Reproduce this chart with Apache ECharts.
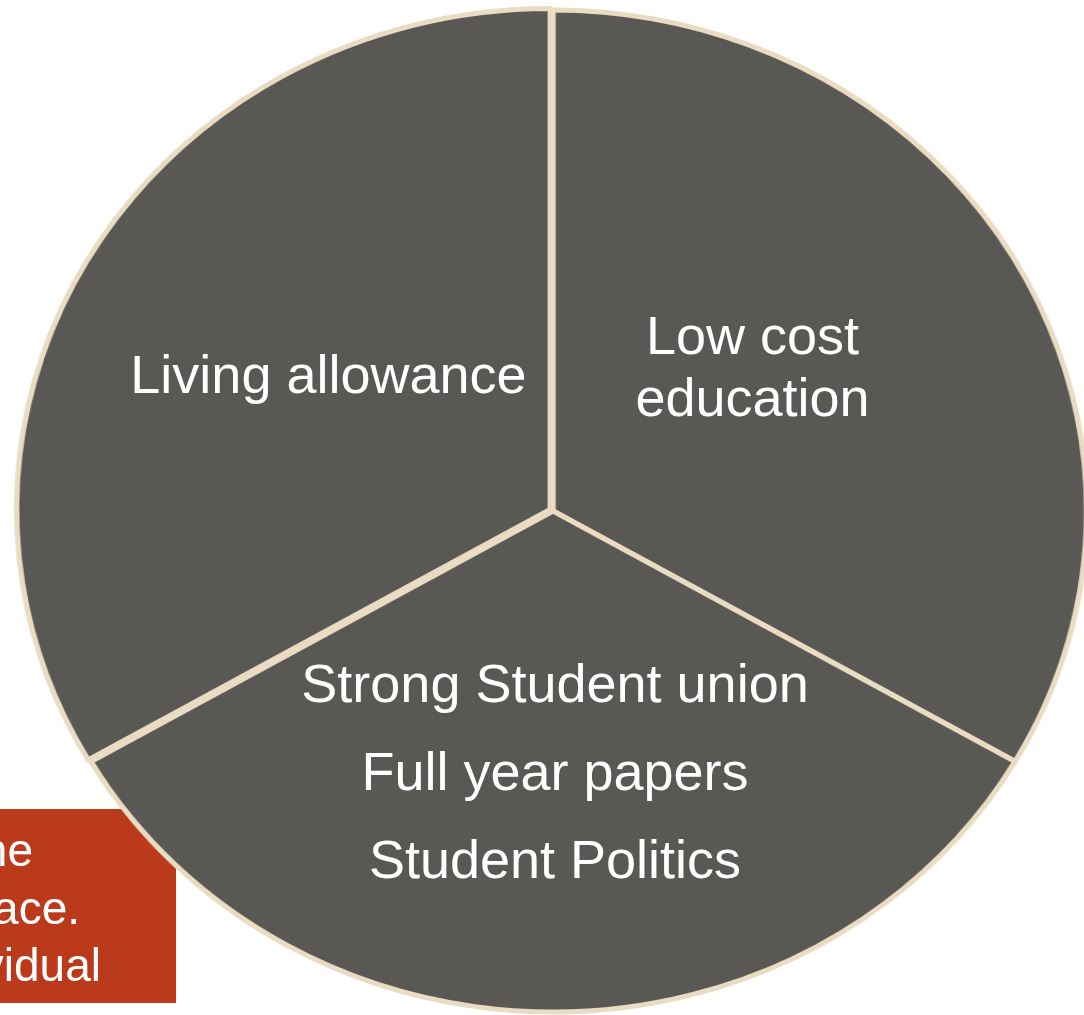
<!DOCTYPE html>
<html>
<head>
<meta charset="utf-8">
<script src="https://cdn.jsdelivr.net/npm/echarts@6/dist/echarts.min.js"></script>
<style>
html,body{margin:0;padding:0;background:#fff;overflow:hidden;}
#wrap{position:relative;width:1084px;height:1015px;overflow:hidden;}
.layer{position:absolute;left:0;top:0;width:1084px;height:1015px;}
#pie{transform:scaleX(1.065);transform-origin:553px 511px;}
</style>
</head>
<body>
<div id="wrap">
  <div id="callout" class="layer"></div>
  <div id="pie" class="layer"></div>
  <div id="labels" class="layer"></div>
</div>
<script>
// Data
var categories = ['Low cost\neducation', 'Strong Student union\nFull year papers\nStudent Politics', 'Living allowance'];
var values = [33.3, 33.3, 33.3];
var calloutLines = ['the', 'place.', 'individual'];

var FONT = '"Liberation Sans", Arial, sans-serif';
var sliceColor = '#5A5854';
var borderColor = '#EADCC3';
var CENTER = [553, 511];
var RADIUS = 501;

var labelTweaks = [
  { lineHeight: 62, padding: [0, 40, 0, 0], offset: [0, -14] },
  { lineHeight: 88, padding: [0, 0, 0, 4], offset: [0, 11] },
  { lineHeight: 60, padding: [0, 10, 0, 0], offset: [0, -6] }
];

// Layer 1: callout box (behind the pie)
var c1 = echarts.init(document.getElementById('callout'), null, { renderer: 'canvas' });
var calloutRight = [33, 80, 101];
var calloutY = [853, 911, 968];
c1.setOption({
  animation: false,
  backgroundColor: '#ffffff',
  graphic: [{ type: 'rect', shape: { x: 0, y: 809, width: 176, height: 194 }, style: { fill: '#BC3A1C' }, silent: true }]
    .concat(calloutLines.map(function (t, i) {
      return { type: 'text', x: calloutRight[i], y: calloutY[i], silent: true,
        style: { text: t, fill: '#ffffff', font: '46px ' + FONT, textAlign: 'right', textVerticalAlign: 'middle' } };
    }))
});

// Layer 2: the pie slices (stretched horizontally like the original ellipse)
var c2 = echarts.init(document.getElementById('pie'), null, { renderer: 'canvas' });
c2.setOption({
  animation: false,
  series: [{
    type: 'pie',
    center: CENTER,
    radius: [0, RADIUS],
    startAngle: 90,
    clockwise: true,
    silent: true,
    selectedMode: 'multiple',
    selectedOffset: 3,
    emphasis: { disabled: true },
    itemStyle: { color: sliceColor, borderColor: borderColor, borderWidth: 5 },
    label: { show: false },
    labelLine: { show: false },
    data: categories.map(function (c, i) {
      return { name: c, value: values[i], selected: i === 2 };
    })
  }]
});

// Layer 3: the slice labels (same pie geometry, unstretched text)
var c3 = echarts.init(document.getElementById('labels'), null, { renderer: 'canvas' });
c3.setOption({
  animation: false,
  series: [{
    type: 'pie',
    center: CENTER,
    radius: [0, RADIUS],
    startAngle: 90,
    clockwise: true,
    silent: true,
    emphasis: { disabled: true },
    itemStyle: { color: 'rgba(0,0,0,0)', borderWidth: 0 },
    label: {
      show: true,
      position: 'inside',
      formatter: '{b}',
      color: '#ffffff',
      fontSize: 54,
      fontFamily: FONT,
      align: 'center'
    },
    labelLine: { show: false },
    data: categories.map(function (c, i) {
      return { name: c, value: values[i], label: labelTweaks[i] };
    })
  }]
});
</script>
</body>
</html>
